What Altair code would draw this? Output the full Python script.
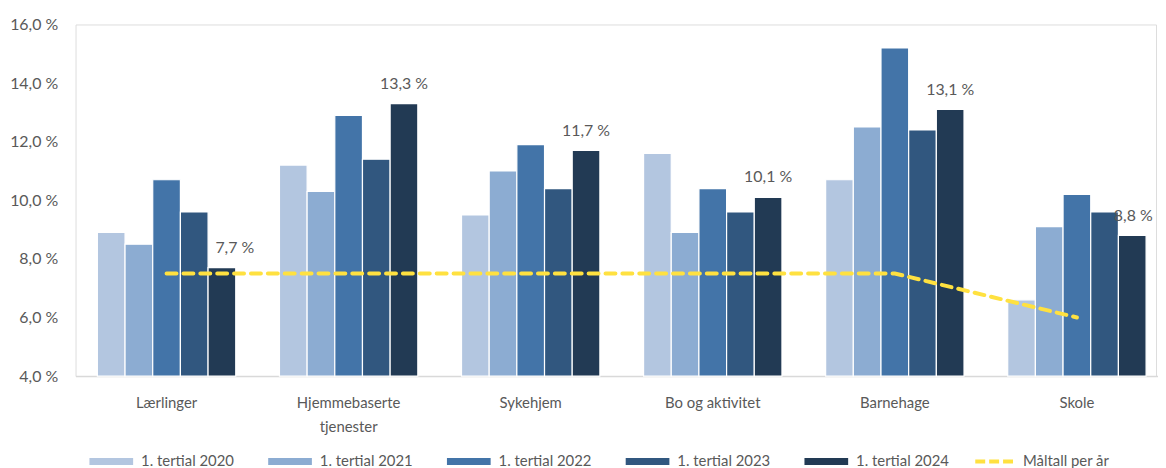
import altair as alt
import pandas as pd

categories = ["Lærlinger", "Hjemmebaserte tjenester", "Sykehjem", "Bo og aktivitet", "Barnehage", "Skole"]
years = ["1. tertial 2020", "1. tertial 2021", "1. tertial 2022", "1. tertial 2023", "1. tertial 2024"]
v2020 = [8.9, 11.2, 9.5, 11.6, 10.7, 6.6]
v2021 = [8.5, 10.3, 11.0, 8.9, 12.5, 9.1]
v2022 = [10.7, 12.9, 11.9, 10.4, 15.2, 10.2]
v2023 = [9.6, 11.4, 10.4, 9.6, 12.4, 9.6]
v2024 = [7.7, 13.3, 11.7, 10.1, 13.1, 8.8]
target = [7.5, 7.5, 7.5, 7.5, 7.5, 6.0]
target_name = "Måltall per år"
colors = ["#B3C6E0", "#8CACD2", "#4374A8", "#31577F", "#223A54"]
y_ticks = [4, 6, 8, 10, 12, 14, 16]

series = [v2020, v2021, v2022, v2023, v2024]
rows = []
for yr, vals in zip(years, series):
    for c, v in zip(categories, vals):
        rows.append({"kategori": c, "år": yr, "verdi": v})
bars_df = pd.DataFrame(rows)
label_df = bars_df[bars_df["år"] == years[-1]].copy()
line_df = pd.DataFrame({"kategori": categories, "verdi": target, "serie": [target_name] * len(categories)})

FONT = "Lato"
GREY = "#595959"

x_enc = alt.X(
    "kategori:N",
    sort=categories,
    scale=alt.Scale(paddingInner=0.24, paddingOuter=0.12, range=[0, 1100]),
    axis=alt.Axis(
        title=None, labelAngle=0, ticks=False, domain=True, domainColor="#D9D9D9",
        domainWidth=1.5, labelPadding=20, labelFontSize=15, labelColor=GREY,
        labelFont=FONT, labelLineHeight=24, labelFontWeight="normal",
        labelExpr="datum.label == 'Hjemmebaserte tjenester' ? ['Hjemmebaserte', 'tjenester'] : datum.label",
    ),
)
y_scale = alt.Scale(domain=[4, 16], zero=False, nice=False)
y_enc = alt.Y(
    "verdi:Q",
    scale=y_scale,
    axis=alt.Axis(
        title=None, values=y_ticks, grid=False, domain=False, ticks=False,
        labelPadding=18, labelFontSize=16, labelColor=GREY, labelFont=FONT,
        labelExpr="replace(format(datum.value, '.1f'), '.', ',') + ' %'",
    ),
)
xoff = alt.XOffset("år:N", sort=years, scale=alt.Scale(domain=years, paddingInner=0, paddingOuter=0))

bars = alt.Chart(bars_df).mark_bar(stroke="white", strokeWidth=1.2).encode(
    x=x_enc,
    xOffset=xoff,
    y=y_enc,
    y2=alt.datum(4),
    color=alt.Color(
        "år:N",
        sort=years,
        scale=alt.Scale(domain=years, range=colors),
        legend=alt.Legend(
            title=None, orient="none", direction="horizontal", legendX=14, legendY=418,
            symbolType="M-1,-0.16L1,-0.16L1,0.16L-1,0.16Z", symbolSize=1936,
            symbolStrokeWidth=0, labelOffset=8, columnPadding=34,
            labelFontSize=15, labelColor=GREY, labelFont=FONT,
        ),
    ),
)


def value_labels(cats, dx):
    return alt.Chart(label_df).transform_filter(
        alt.FieldOneOfPredicate(field="kategori", oneOf=cats)
    ).transform_calculate(
        tekst="replace(format(datum.verdi, '.1f'), '.', ',') + ' %'"
    ).mark_text(baseline="alphabetic", dy=-15, dx=dx, fontSize=16, color=GREY, font=FONT).encode(
        x=alt.X("kategori:N", sort=categories),
        xOffset=alt.XOffset("år:N", sort=years),
        y=alt.Y("verdi:Q"),
        text="tekst:N",
    )


labels_mid = value_labels(["Hjemmebaserte tjenester", "Sykehjem", "Bo og aktivitet", "Barnehage"], 0)
labels_l = value_labels(["Lærlinger"], 13)
labels_s = value_labels(["Skole"], 1)

line = alt.Chart(line_df).mark_line(
    strokeWidth=4, strokeDash=[10, 7], strokeCap="round", interpolate="linear"
).encode(
    x=alt.X("kategori:N", sort=categories),
    y=alt.Y("verdi:Q"),
    stroke=alt.Stroke(
        "serie:N",
        scale=alt.Scale(domain=[target_name], range=["#FFE140"]),
        legend=alt.Legend(
            title=None, orient="none", legendX=904, legendY=419,
            symbolType="stroke", symbolSize=1444, symbolStrokeWidth=4,
            symbolDash=[10, 4], labelOffset=8,
            labelFontSize=15, labelColor=GREY, labelFont=FONT,
        ),
    ),
)

chart = alt.layer(bars, line, labels_mid, labels_l, labels_s).properties(
    width=1088,
    height=354,
    autosize=alt.AutoSizeParams(type="none"),
    padding={"left": 68, "top": 15, "right": 2, "bottom": 91},
).configure_view(stroke=None).configure(font=FONT)

chart.save("out.html", embed_options={"renderer": "svg", "actions": False})
